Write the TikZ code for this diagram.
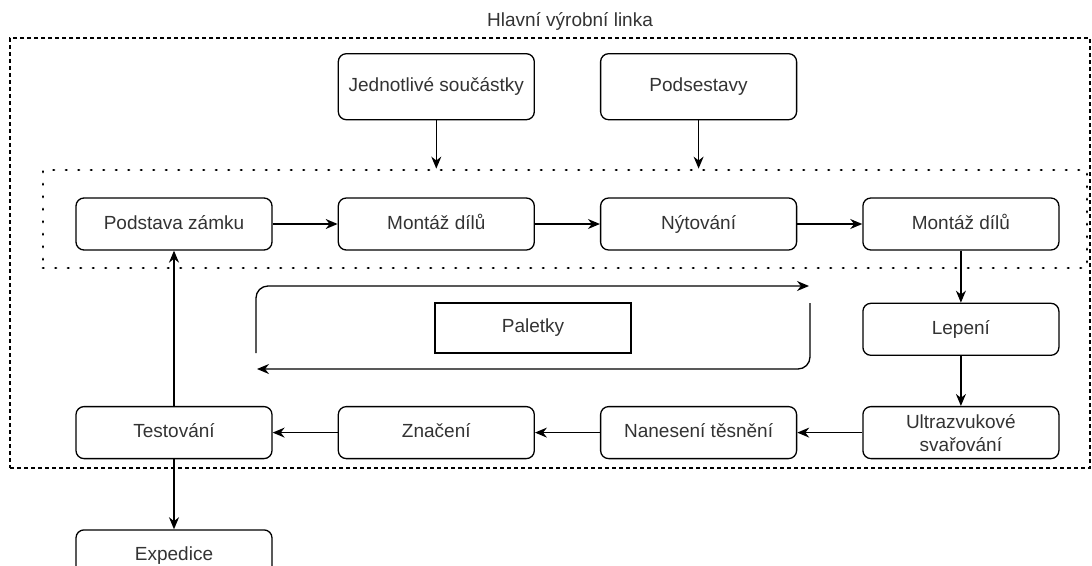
\documentclass[tikz,border=0pt]{standalone}
\usepackage{fontspec}
\setmainfont{Liberation Sans}
\usetikzlibrary{arrows.meta, positioning}
\definecolor{txtgray}{HTML}{333333}

\begin{document}
\begin{tikzpicture}[x=1pt,y=-1pt,node distance=65pt,font=\fontsize{19}{23}\selectfont,box/.style={rectangle, draw, rounded corners=8pt, line width=1.3pt, minimum width=196pt, minimum height=52pt, align=center, text=txtgray, text height=14pt, text depth=4pt},topbox/.style={box, minimum height=66pt},plainbox/.style={rectangle, draw, line width=1.3pt, minimum width=196pt, minimum height=50pt, text=txtgray},arrow/.style={-{Stealth[length=12pt,width=10pt]}, line width=1.3pt}]
\useasboundingbox (0,0) rectangle (1092,565);
% hranice linky
\node[draw, dash pattern=on 4pt off 3pt, line width=1.2pt, minimum width=1080pt, minimum height=430pt] (hlavni) at (550,253) {};
\node[text=txtgray] (nazev) at (570,21) {Hlavní výrobní linka};
\node[draw, dash pattern=on 0.5pt off 12pt, line cap=round, line width=2.8pt, minimum width=1044pt, minimum height=98pt] (linka) at (565,219) {};
% horni rada
\node[box] (podstava) at (174,224) {Podstava zámku};
\node[box, right=of podstava] (montaz) {Montáž dílů};
\node[box, right=of montaz] (nytovani) {Nýtování};
\node[box, right=of nytovani] (montazb) {Montáž dílů};
\node[topbox, above=77pt of montaz] (soucastky) {Jednotlivé součástky};
\node[topbox, above=77pt of nytovani] (podsestavy) {Podsestavy};
% prava strana a spodni rada
\node[box, below=52pt of montazb] (lepeni) {Lepení};
\node[box, below=50pt of lepeni, text height=, text depth=] (ultra) {Ultrazvukové\\svařování};
\node[box, left=of ultra] (naneseni) {Nanesení těsnění};
\node[box, left=of naneseni] (znaceni) {Značení};
\node[box, left=of znaceni] (testovani) {Testování};
\node[box, below=70pt of testovani] (expedice) {Expedice};
% paletky
\node[plainbox] (paletky) at (533,328) {Paletky};
\coordinate (palA) at (256,353);
\coordinate (palB) at (809,286);
\coordinate (palC) at (810,303);
\coordinate (palD) at (257,369);
\draw[arrow] (soucastky) -- (soucastky |- linka.north);
\draw[arrow] (podsestavy) -- (podsestavy |- linka.north);
\draw[arrow] (podstava) -- (montaz);
\draw[arrow] (montaz) -- (nytovani);
\draw[arrow] (nytovani) -- (montazb);
\draw[arrow] (montazb) -- (lepeni);
\draw[arrow] (lepeni) -- (ultra);
\draw[arrow] (ultra) -- (naneseni);
\draw[arrow] (naneseni) -- (znaceni);
\draw[arrow] (znaceni) -- (testovani);
\draw[arrow] (testovani) -- (podstava);
\draw[arrow] (testovani) -- (expedice);
\draw[arrow, rounded corners=12pt] (palA) |- (palB);
\draw[arrow, rounded corners=12pt] (palC) |- (palD);
\end{tikzpicture}
\end{document}
